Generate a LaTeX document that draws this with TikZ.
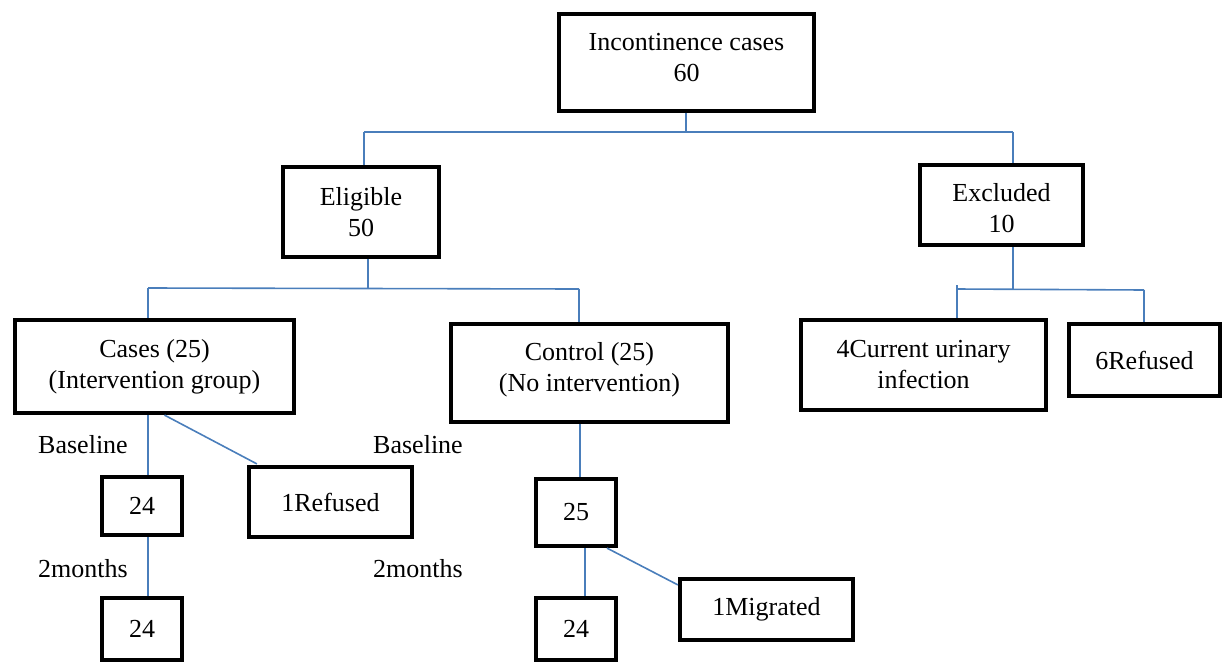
\documentclass[tikz,border=0pt]{standalone}
\usepackage{fontspec}
\setmainfont{Liberation Serif}
\usetikzlibrary{calc}
\definecolor{connblue}{HTML}{4A7EBB}
\tikzset{
  box/.style={draw, line width=2.1pt, align=center, inner sep=0pt,
    font=\fontsize{13}{15.5}\selectfont},
  lbl/.style={inner sep=0pt, font=\fontsize{13}{15.5}\selectfont},
  conn/.style={draw=connblue, line width=0.8pt}
}
\begin{document}
\begin{tikzpicture}[x=0.5pt,y=-0.5pt]
\useasboundingbox (0,0) rectangle (1223,665);
% boxes
\node[box, minimum width=127.5pt, minimum height=48.5pt, text depth=5pt] (inc) at (686.5,62.5) {Incontinence cases\\60};
\node[box, minimum width=78pt, minimum height=45pt] (elig) at (361,212) {Eligible\\50};
\node[box, minimum width=81.5pt, minimum height=40pt, text height=28pt] (excl) at (1001.5,205) {Excluded\\10};
\node[box, minimum width=139.5pt, minimum height=46.5pt] (cases) at (154.5,366.5) {Cases (25)\\(Intervention group)};
\node[box, minimum width=138.5pt, minimum height=49pt, text depth=6pt] (ctrl) at (589.5,373) {Control (25)\\(No intervention)};
\node[box, minimum width=122.5pt, minimum height=45pt] (cur) at (923.5,365) {4Current urinary\\infection};
\node[box, minimum width=75.5pt, minimum height=36pt] (refsix) at (1144.5,360) {6Refused};
\node[box, minimum width=40pt, minimum height=29pt] (ca) at (142,506) {24};
\node[box, minimum width=40pt, minimum height=31pt] (cb) at (142,629) {24};
\node[box, minimum width=81.5pt, minimum height=35pt] (refone) at (330.5,502) {1Refused};
\node[box, minimum width=40pt, minimum height=33.5pt] (ka) at (576,512.5) {25};
\node[box, minimum width=40pt, minimum height=31pt] (kb) at (576,629) {24};
\node[box, minimum width=86.5pt, minimum height=30.5pt] (mig) at (766.5,609.5) {1Migrated};
% labels
\node[lbl] (bl1) at (83,445) {Baseline};
\node[lbl] (tm1) at (83,569) {2months};
\node[lbl] (bl2) at (418,445) {Baseline};
\node[lbl] (tm2) at (418,569) {2months};
% junction coordinates
\coordinate (j1) at (686,132);
\coordinate (j1l) at (364,132);
\coordinate (j1r) at (1013,132);
\coordinate (j2) at (368,288);
\coordinate (j2l) at (148,288);
\coordinate (j2r) at (579,289);
\coordinate (j3) at (1013,289);
\coordinate (j3l) at (957,289);
\coordinate (j3t) at (957,285);
\coordinate (j3r) at (1144,290);
\coordinate (cL) at (148,0);
\coordinate (kL) at (580,0);
\coordinate (kM) at (585,0);
% connectors
\draw[conn] (inc.south -| j1) -- (j1);
\draw[conn] (j1l) -- (j1r);
\draw[conn] (j1l) -- (j1l |- elig.north);
\draw[conn] (j1r) -- (j1r |- excl.north);
\draw[conn] (elig.south -| j2) -- (j2);
\draw[conn] (j2l) -- (j2r);
\draw[conn] (j2l) -- (j2l |- cases.north);
\draw[conn] (j2r) -- (j2r |- ctrl.north);
\draw[conn] (excl.south -| j3) -- (j3);
\draw[conn] (j3l) -- (j3r);
\draw[conn] (j3t) -- (j3t |- cur.north);
\draw[conn] (j3r) -- (j3r |- refsix.north);
\draw[conn] (cases.south -| cL) -- (ca.north -| cL);
\draw[conn] (ca.south -| cL) -- (cb.north -| cL);
\draw[conn] ($(cases.south)+(10,0)$) -- ($(refone.north west)+(10,-1)$);
\draw[conn] (ctrl.south -| kL) -- (ka.north -| kL);
\draw[conn, line width=1.1pt] (ka.south -| kM) -- (kb.north -| kM);
\draw[conn] ($(ka.south)+(31,0)$) -- ($(mig.north west)+(0,8)$);
\end{tikzpicture}
\end{document}
